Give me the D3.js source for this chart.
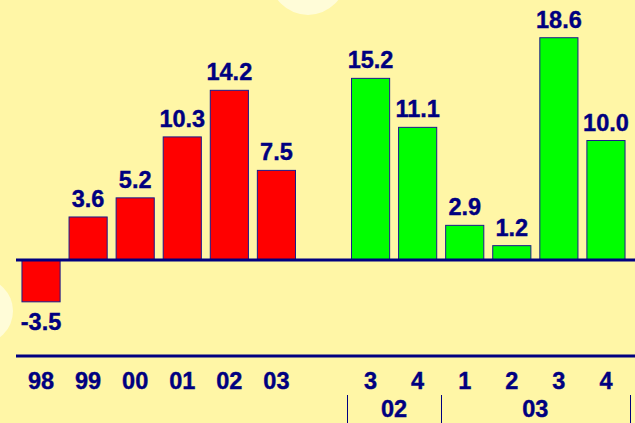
<!DOCTYPE html>
<html>
<head>
<script src="https://cdn.jsdelivr.net/npm/d3@7"></script>
<style>
  html, body { margin: 0; padding: 0; background: #fff6a6; }
  svg { display: block; }
  text { font-family: "Liberation Sans", Arial, sans-serif; font-weight: bold; fill: #000080; stroke: #000080; stroke-width: 0.4px; }
</style>
</head>
<body>
<div id="chart"></div>
<script>
// annual growth 98-03, then quarters of 02 and 03
var annualLabels = ["98", "99", "00", "01", "02", "03"];
var annualValues = [-3.5, 3.6, 5.2, 10.3, 14.2, 7.5];
var quarterLabels = ["3", "4", "1", "2", "3", "4"];
var quarterValues = [15.2, 11.1, 2.9, 1.2, 18.6, 10.0];
var groupLabels = ["02", "03"];
var groupSizes = [2, 4];

var width = 635, height = 423;
var zeroY = 260, pxPerUnit = 11.95;

var svg = d3.select("#chart").append("svg")
    .attr("width", width)
    .attr("height", height);

svg.append("rect").attr("width", width).attr("height", height).attr("fill", "#fff6a6");

// soft decorative blobs from the slide background
svg.append("circle").attr("cx", 308).attr("cy", -23).attr("r", 38).attr("fill", "#fffcd8");
svg.append("circle").attr("cx", -20).attr("cy", 311).attr("r", 33).attr("fill", "#fffcd8");

// one empty slot between the annual and quarterly bars
var bars = [];
annualValues.forEach(function (v, i) { bars.push({slot: i, label: annualLabels[i], value: v, color: "#ff0000"}); });
quarterValues.forEach(function (v, i) { bars.push({slot: i + 7, label: quarterLabels[i], value: v, color: "#00ff00"}); });

var x = d3.scaleBand()
    .domain(d3.range(13))
    .range([17.5, 629.5])
    .paddingInner(0.19)
    .paddingOuter(0.095);

var y = d3.scaleLinear()
    .domain([-5, 20])
    .range([zeroY + 5 * pxPerUnit, zeroY - 20 * pxPerUnit]);

svg.selectAll("rect.bar")
    .data(bars)
  .enter().append("rect")
    .attr("class", "bar")
    .attr("x", function (d) { return x(d.slot); })
    .attr("width", x.bandwidth())
    .attr("y", function (d) { return Math.min(y(d.value), y(0)); })
    .attr("height", function (d) { return Math.abs(y(d.value) - y(0)); })
    .attr("fill", function (d) { return d.color; })
    .attr("stroke", "#1a1a8c")
    .attr("stroke-width", 1);

// value labels
svg.selectAll("text.val")
    .data(bars)
  .enter().append("text")
    .attr("class", "val")
    .attr("x", function (d) { return x(d.slot) + x.bandwidth() / 2; })
    .attr("y", function (d) { return d.value >= 0 ? y(d.value) - 10 : y(d.value) + 28; })
    .attr("text-anchor", "middle")
    .style("font-size", "23.5px")
    .text(function (d) { return d.value.toFixed(1); });

// zero line and the line above the category labels
svg.append("line").attr("x1", 16).attr("x2", width).attr("y1", y(0)).attr("y2", y(0))
    .attr("stroke", "#000080").attr("stroke-width", 3);
svg.append("line").attr("x1", 16).attr("x2", width).attr("y1", 356).attr("y2", 356)
    .attr("stroke", "#000080").attr("stroke-width", 3);

// category labels
svg.selectAll("text.cat")
    .data(bars)
  .enter().append("text")
    .attr("class", "cat")
    .attr("x", function (d) { return x(d.slot) + x.bandwidth() / 2; })
    .attr("y", 389)
    .attr("text-anchor", "middle")
    .style("font-size", "23.5px")
    .text(function (d) { return d.label; });

// year groups under the quarters
var step = x.step();
var start = 7;
var bounds = [start];
groupSizes.forEach(function (n) { bounds.push(bounds[bounds.length - 1] + n); });
var edgeX = function (slot) { return x.range()[0] + slot * step; };

svg.selectAll("line.sep")
    .data(bounds)
  .enter().append("line")
    .attr("class", "sep")
    .attr("x1", function (b) { return Math.round(edgeX(b)) + 0.5; })
    .attr("x2", function (b) { return Math.round(edgeX(b)) + 0.5; })
    .attr("y1", 395).attr("y2", height)
    .attr("stroke", "#000080").attr("stroke-width", 1);

svg.selectAll("text.grp")
    .data(groupLabels)
  .enter().append("text")
    .attr("class", "grp")
    .attr("x", function (g, i) { return (edgeX(bounds[i]) + edgeX(bounds[i + 1])) / 2; })
    .attr("y", 417)
    .attr("text-anchor", "middle")
    .style("font-size", "23.5px")
    .text(function (g) { return g; });
</script>
</body>
</html>
